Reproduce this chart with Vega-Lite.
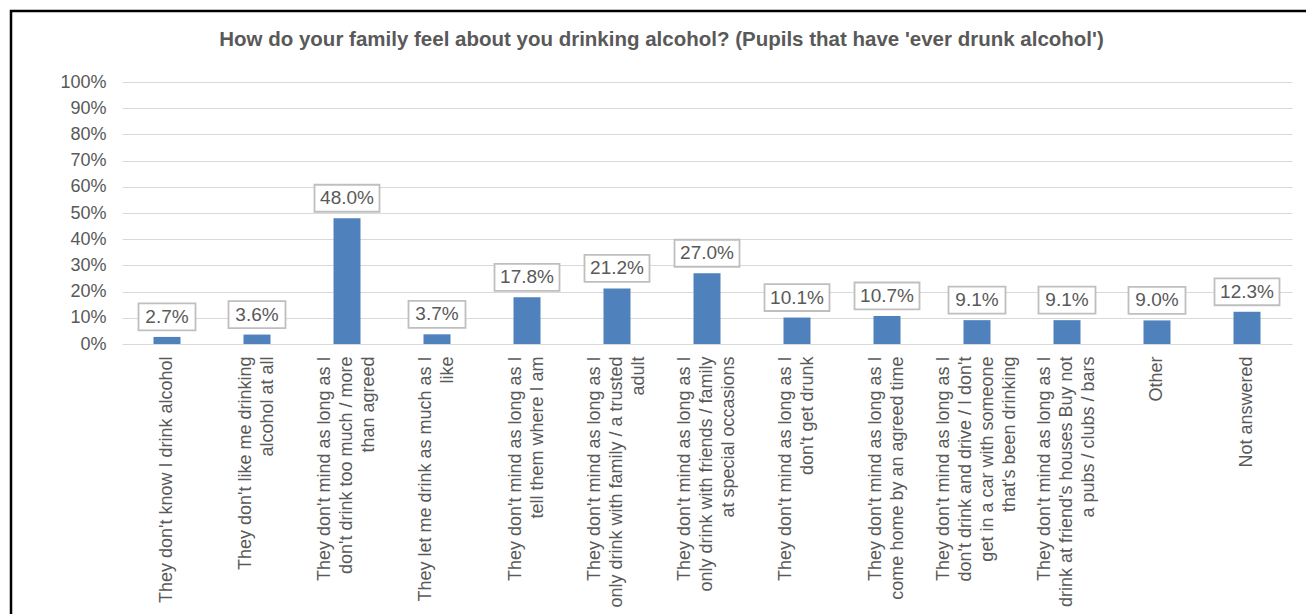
{
  "$schema": "https://vega.github.io/schema/vega-lite/v6.json",
  "autosize": {"type": "none"},
  "padding": {"left": 11, "top": 11, "right": -6, "bottom": -6},
  "width": 1301,
  "height": 609,
  "background": "white",
  "title": {
    "text": "How do your family feel about you drinking alcohol? (Pupils that have 'ever drunk alcohol')",
    "font": "Liberation Sans",
    "fontSize": 20.5,
    "fontWeight": "bold",
    "color": "#595959",
    "anchor": "middle",
    "offset": -39
  },
  "data": {
    "values": [
      {"category": "They don't know  I drink alcohol", "value": 0.027},
      {"category": "They don't like me drinking|alcohol at all", "value": 0.036},
      {"category": "They don't mind as long as I|don't drink too much / more|than agreed", "value": 0.48},
      {"category": "They let me drink as much as I|like", "value": 0.037},
      {"category": "They don't mind as long as I|tell them where I  am", "value": 0.178},
      {"category": "They don't mind as long as I|only drink with family / a trusted|adult", "value": 0.212},
      {"category": "They don't mind as long as I|only drink with friends / family|at special occasions", "value": 0.27},
      {"category": "They don't mind as long as I|don't get drunk", "value": 0.101},
      {"category": "They don't mind as long as I|come home by an agreed time", "value": 0.107},
      {"category": "They don't mind as long as I|don't drink and drive / I don't|get in a car with someone|that's been drinking", "value": 0.091},
      {"category": "They don't mind as long as I|drink at friend's houses Buy not|a pubs / clubs / bars", "value": 0.091},
      {"category": "Other", "value": 0.09},
      {"category": "Not answered", "value": 0.123}
    ]
  },
  "encoding": {
    "x": {
      "field": "category",
      "type": "nominal",
      "sort": null,
      "scale": {"paddingInner": 0.7, "paddingOuter": 0.35, "range": [111, 1281]},
      "axis": {
        "title": null,
        "domain": false,
        "ticks": false,
        "offset": -276,
        "labelAngle": -90,
        "labelAlign": "right",
        "labelBaseline": "middle",
        "labelFont": "Liberation Sans",
        "labelFontSize": 18,
        "labelColor": "#595959",
        "labelPadding": 12,
        "labelLineHeight": 22,
        "labelLimit": 600,
        "labelOverlap": false,
        "labelExpr": "split(datum.label, '|')",
        "labelOffset": {"expr": "-(length(split(datum.label, '|')) - 1) * 11"}
      }
    },
    "y": {
      "field": "value",
      "type": "quantitative",
      "scale": {"domain": [0, 1], "nice": false, "range": [333, 71]},
      "axis": {
        "title": null,
        "values": [0, 0.1, 0.2, 0.3, 0.4, 0.5, 0.6, 0.7, 0.8, 0.9, 1],
        "format": ".0%",
        "domain": false,
        "ticks": false,
        "offset": -111,
        "labelFont": "Liberation Sans",
        "labelFontSize": 18,
        "labelColor": "#595959",
        "labelPadding": 16,
        "gridColor": "#d9d9d9",
        "gridWidth": 1
      }
    }
  },
  "layer": [
    {"mark": {"type": "bar", "color": "#4f81bd"}},
    {
      "mark": {
        "type": "point",
        "filled": true,
        "fill": "white",
        "stroke": "#bfbfbf",
        "strokeWidth": 1.8,
        "opacity": 1,
        "yOffset": -20
      },
      "encoding": {
        "shape": {
          "condition": {"test": "datum.value >= 0.1", "value": "M-1,-0.415H1V0.415H-1Z"},
          "value": "M-1,-0.474H1V0.474H-1Z"
        },
        "size": {
          "condition": {"test": "datum.value >= 0.1", "value": 4225},
          "value": 3249
        }
      }
    },
    {
      "mark": {
        "type": "text",
        "font": "Liberation Sans",
        "fontSize": 19,
        "color": "#595959",
        "baseline": "middle",
        "align": "center",
        "yOffset": -20
      },
      "encoding": {
        "text": {"field": "value", "type": "quantitative", "format": ".1%"}
      }
    }
  ],
  "config": {
    "view": {"stroke": "black", "strokeWidth": 2.5}
  }
}
